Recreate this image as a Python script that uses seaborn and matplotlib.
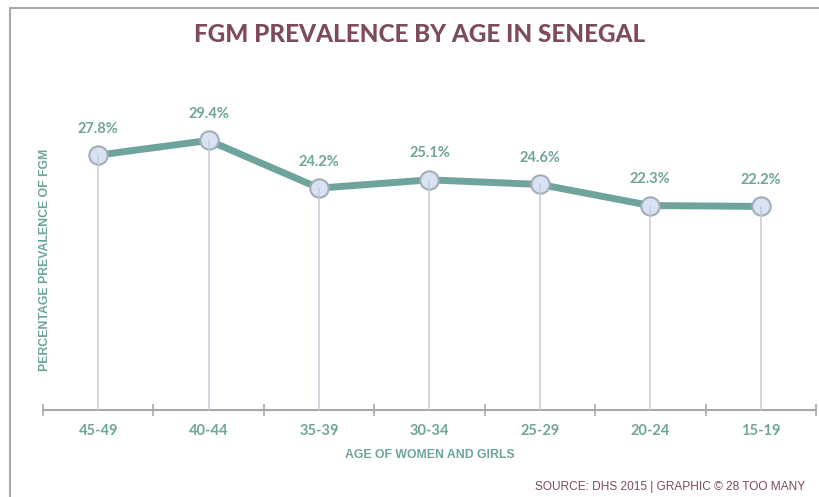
import matplotlib
matplotlib.use("Agg")
import matplotlib.pyplot as plt
import seaborn as sns
import numpy as np
from matplotlib.lines import Line2D

age_groups = ["45-49", "40-44", "35-39", "30-34", "25-29", "20-24", "15-19"]
prevalence = [27.8, 29.4, 24.2, 25.1, 24.6, 22.3, 22.2]

teal = "#6ea49b"
plum = "#7d4b5c"

sns.set_style("white")
plt.rcParams['font.family'] = ['Lato', 'DejaVu Sans']

fig = plt.figure(figsize=(8.19, 4.97), dpi=100)
ax = fig.add_axes([43 / 819, 1 - 410 / 497, (816 - 43) / 819, 320 / 497])

pos = np.arange(len(age_groups))

sns.lineplot(x=pos, y=prevalence, ax=ax, color=teal, lw=5, zorder=2,
             solid_capstyle="butt")
ax.scatter(pos, prevalence, s=175, facecolor="#d8e2f2", edgecolor="#a3adb8",
           linewidth=1.5, zorder=3)
# drop lines from each point to the baseline
ax.vlines(pos, 0, prevalence, color="#c2cddb", lw=1.1, zorder=4)

for x, v in zip(pos, prevalence):
    ax.annotate(f"{v}%", (x, v), xytext=(0, 14), textcoords="offset points",
                ha="center", va="bottom", color=teal, fontsize=10.5,
                fontweight="bold")

ax.set_xlim(-0.5, len(age_groups) - 0.5)
ax.set_ylim(0, 34.9)
ax.set_yticks([])
ax.set_xticks(pos)
ax.set_xticklabels(age_groups, color=teal, fontsize=10.5, fontweight="bold")
ax.set_xticks(np.arange(-0.5, len(age_groups)), minor=True)
ax.tick_params(axis="x", which="major", length=0, pad=10)
ax.tick_params(axis="x", which="minor", length=8, direction="inout",
               color="#a9a9a9", width=1.2, bottom=True)

for s in ["top", "right", "left"]:
    ax.spines[s].set_visible(False)
ax.spines["bottom"].set_color("#a9a9a9")
ax.spines["bottom"].set_linewidth(1.5)

ax.set_xlabel("AGE OF WOMEN AND GIRLS", color=teal, fontsize=8.8,
              fontweight="bold", family=["Liberation Sans"], labelpad=8)
ax.set_ylabel("PERCENTAGE PREVALENCE OF FGM", color=teal, fontsize=8.8,
              fontweight="bold", family=["Liberation Sans"])
ax.yaxis.set_label_coords(0.01, 0.468)

fig.text(420 / 819, 1 - 35 / 497, "FGM PREVALENCE BY AGE IN SENEGAL",
         ha="center", va="center", color=plum, fontsize=17.5, fontweight="black")
fig.text(805 / 819, 1 - 487 / 497, "SOURCE: DHS 2015 | GRAPHIC © 28 TOO MANY",
         ha="right", va="center", color=plum, fontsize=8.6,
         family=["Liberation Sans"])

# frame of the original screenshot
fig.add_artist(Line2D([9.5 / 819, 9.5 / 819], [0, 1 - 8 / 497],
                      transform=fig.transFigure, color="#a8a8a8", lw=1.5))
fig.add_artist(Line2D([9.5 / 819, 1], [1 - 8 / 497, 1 - 8 / 497],
                      transform=fig.transFigure, color="#a8a8a8", lw=1.5))

fig.savefig("out.png", dpi=100)
